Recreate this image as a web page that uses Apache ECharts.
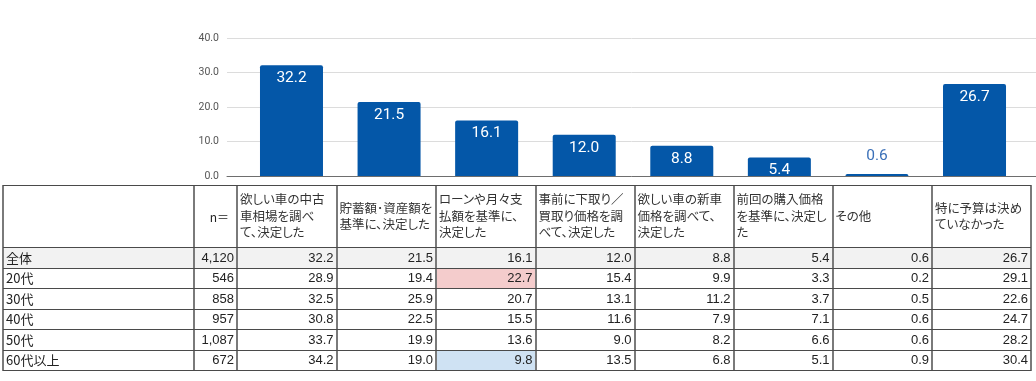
<!DOCTYPE html>
<html>
<head>
<meta charset="utf-8">
<script src="https://cdn.jsdelivr.net/npm/echarts@6/dist/echarts.min.js"></script>
<style>
  html, body { margin:0; padding:0; background:#fff; }
  #wrap { position:relative; width:1036px; height:381px; overflow:hidden; }
  #chart { position:absolute; left:0; top:0; width:1036px; height:381px; }
  #table { position:absolute; left:0; top:0; width:1036px; height:381px; pointer-events:none; }
  .cell { position:absolute; box-sizing:border-box; display:flex; align-items:center;
          font-family:"Liberation Sans","Noto Sans CJK JP",sans-serif; font-size:13px; color:#222;
          white-space:nowrap; overflow:hidden; }
  .hdr { font-family:"Noto Sans CJK JP",sans-serif; font-size:12.5px; line-height:16.5px;
         font-feature-settings:"palt"; white-space:pre; padding-left:3px; color:#333; overflow:visible; }
  .num { justify-content:flex-end; padding-right:3px; }
  .lbl { justify-content:flex-start; padding-left:3px; font-family:"Noto Sans CJK JP",sans-serif; }
  .vl { position:absolute; width:2px; background:#7a7a7a; }
  .hl { position:absolute; height:1px; background:#4a4a4a; }
</style>
</head>
<body>
<div id="wrap">
  <div id="chart"></div>
  <div id="table"></div>
</div>
<script>
// ---------- DATA ----------
const categories = [
  '欲しい車の中古\n車相場を調べ\nて、決定した',
  '貯蓄額･資産額を\n基準に、決定した',
  'ローンや月々支\n払額を基準に、\n決定した',
  '事前に下取り／\n買取り価格を調\nべて、決定した',
  '欲しい車の新車\n価格を調べて、\n決定した',
  '前回の購入価格\nを基準に、決定し\nた',
  'その他',
  '特に予算は決め\nていなかった'
];
const rowLabels = ['全体', '20代', '30代', '40代', '50代', '60代以上'];
const nValues = [4120, 546, 858, 957, 1087, 672];
const rowAll   = [32.2, 21.5, 16.1, 12.0, 8.8, 5.4, 0.6, 26.7];
const row20s   = [28.9, 19.4, 22.7, 15.4, 9.9, 3.3, 0.2, 29.1];
const row30s   = [32.5, 25.9, 20.7, 13.1, 11.2, 3.7, 0.5, 22.6];
const row40s   = [30.8, 22.5, 15.5, 11.6, 7.9, 7.1, 0.6, 24.7];
const row50s   = [33.7, 19.9, 13.6, 9.0, 8.2, 6.6, 0.6, 28.2];
const row60s   = [34.2, 19.0, 9.8, 13.5, 6.8, 5.1, 0.9, 30.4];
const yTicks = [0, 10, 20, 30, 40];
const nHeader = 'n＝';

// ---------- STYLE / LAYOUT ----------
const barColor = '#0457a8';
const colEdges = [3, 194, 237, 336.5, 436, 535.5, 634.5, 733.5, 832.5, 932, 1031];
const rowEdges = [185, 247, 267.5, 288, 308.5, 329, 349.5, 370];
const highlights = [
  { row: 1, col: 2, color: '#f4cccc' },
  { row: 5, col: 2, color: '#cfe2f3' }
];

// ---------- CHART ----------
const chart = echarts.init(document.getElementById('chart'), null, { renderer: 'canvas' });
const gridTop = 38.3, gridBottom = 381 - 176;
const barData = rowAll.map(v => {
  if (v < 3) {
    return { value: v, label: { position: 'top', distance: 10, color: '#3b70b8' } };
  }
  return v;
});
chart.setOption({
  animation: false,
  grid: [
    { left: 227, right: 0, top: gridTop, bottom: gridBottom },
    { left: 242.7, right: 12.7, top: gridTop, bottom: gridBottom }
  ],
  xAxis: [
    { type: 'value', gridIndex: 0, min: 0, max: 1,
      axisLine: { show: true, onZero: false, lineStyle: { color: '#6e6e6e', width: 1 } },
      axisTick: { show: false }, axisLabel: { show: false }, splitLine: { show: false } },
    { type: 'category', gridIndex: 1, data: categories.map(c => c.replace(/\n/g, '')),
      axisLine: { show: false }, axisTick: { show: false }, axisLabel: { show: false } }
  ],
  yAxis: [
    { type: 'value', gridIndex: 0, min: yTicks[0], max: yTicks[yTicks.length - 1], interval: 10,
      axisLine: { show: false }, axisTick: { show: false },
      axisLabel: { margin: 8, color: '#555', fontSize: 10.5, fontFamily: 'Roboto',
                   formatter: v => v.toFixed(1) },
      splitLine: { lineStyle: { color: '#dcdcdc', width: 1 } } },
    { type: 'value', gridIndex: 1, min: yTicks[0], max: yTicks[yTicks.length - 1],
      show: false, splitLine: { show: false } }
  ],
  series: [{
    type: 'bar', xAxisIndex: 1, yAxisIndex: 1,
    data: barData, barWidth: 63,
    itemStyle: { color: barColor, borderRadius: [2, 2, 0, 0] },
    label: { show: true, position: 'insideTop', distance: 5, color: '#fff',
             fontSize: 15.5, fontFamily: 'Roboto', formatter: p => Number(p.value).toFixed(1) }
  }]
});

// ---------- TABLE ----------
const tbl = document.getElementById('table');
const rows = [rowAll, row20s, row30s, row40s, row50s, row60s];
function addCell(r, c, text, cls, bg) {
  const d = document.createElement('div');
  d.className = 'cell ' + cls;
  d.style.left = colEdges[c] + 'px';
  d.style.top = rowEdges[r] + 'px';
  d.style.width = (colEdges[c + 1] - colEdges[c]) + 'px';
  d.style.height = (rowEdges[r + 1] - rowEdges[r]) + 'px';
  if (bg) d.style.background = bg;
  d.textContent = text;
  tbl.appendChild(d);
  return d;
}
// header
addCell(0, 0, '', 'lbl');
const nh = addCell(0, 1, nHeader, 'num');
nh.style.paddingRight = '8px';
nh.style.fontFamily = '"Noto Sans CJK JP",sans-serif';
nh.style.fontSize = '12px';
categories.forEach((c, i) => addCell(0, i + 2, c, 'hdr'));
// body
rows.forEach((vals, ri) => {
  const r = ri + 1;
  const rowBg = ri === 0 ? '#f2f2f2' : null;
  addCell(r, 0, rowLabels[ri], 'lbl', rowBg);
  addCell(r, 1, nValues[ri].toLocaleString('en-US'), 'num', rowBg);
  vals.forEach((v, ci) => {
    const h = highlights.find(x => x.row === ri && x.col === ci);
    addCell(r, ci + 2, v.toFixed(1), 'num', h ? h.color : rowBg);
  });
});
// grid lines
colEdges.forEach(x => {
  const d = document.createElement('div');
  d.className = 'vl';
  d.style.left = (x - 1) + 'px';
  d.style.top = rowEdges[0] + 'px';
  d.style.height = (rowEdges[rowEdges.length - 1] - rowEdges[0] + 1) + 'px';
  tbl.appendChild(d);
});
rowEdges.forEach(y => {
  const d = document.createElement('div');
  d.className = 'hl';
  d.style.left = colEdges[0] + 'px';
  d.style.top = y + 'px';
  d.style.width = (colEdges[colEdges.length - 1] - colEdges[0]) + 'px';
  tbl.appendChild(d);
});
</script>
</body>
</html>
